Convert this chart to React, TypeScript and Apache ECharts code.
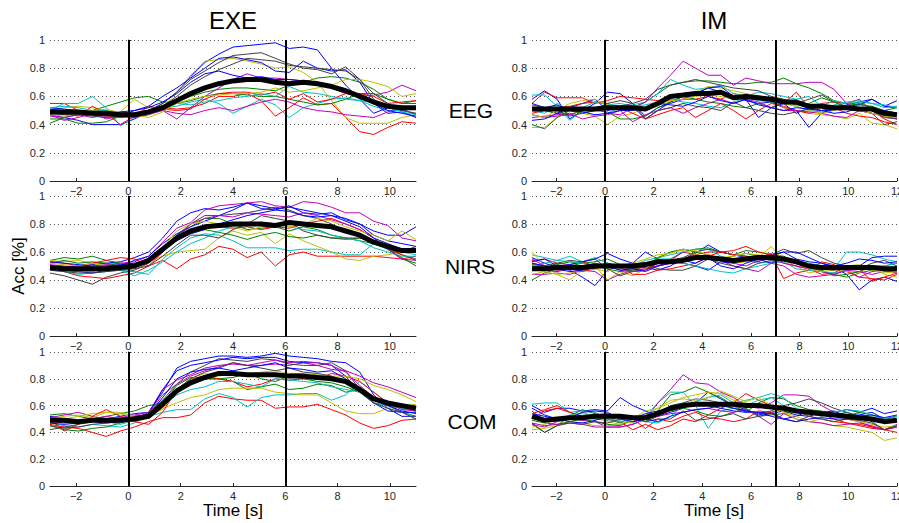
import React, { useEffect, useRef } from "react";
import * as echarts from "echarts";

// ---------- time axes (s) ----------
const tExe = [-3.0, -2.46, -1.92, -1.38, -0.85, -0.31, 0.23, 0.77, 1.31, 1.85, 2.38, 2.92, 3.46, 4.0, 4.54, 5.08, 5.62, 6.15, 6.69, 7.23, 7.77, 8.31, 8.85, 9.38, 9.92, 10.46, 11.0];
const tIm = [-3.0, -2.48, -1.97, -1.45, -0.93, -0.41, 0.1, 0.62, 1.14, 1.66, 2.17, 2.69, 3.21, 3.72, 4.24, 4.76, 5.28, 5.79, 6.31, 6.83, 7.34, 7.86, 8.38, 8.9, 9.41, 9.93, 10.45, 10.97, 11.48, 12.0];

const exeTicks = [-2, 0, 2, 4, 6, 8, 10];
const imTicks = [-2, 0, 2, 4, 6, 8, 10, 12];
const exeOnsets = [0, 6];
const imOnsets = [0, 7];

// MATLAB default colour order (b, g, r, c, m, y, k)
const subjectColors = ["#0000FF", "#008000", "#FF0000", "#00BFBF", "#BF00BF", "#BFBF00", "#404040"];

// ---------- accuracies (%) per subject ----------
const exeEEG = [
  [47,45,43,40,40,40,44,49,55,63,74,84,90,95,96,97,98,94,95,93,80,68,58,48,52,51,47],
  [41,45,47,50,53,56,59,60,56,56,60,63,65,66,66,65,64,68,70,73,74,73,70,65,58,55,55],
  [55,55,50,47,46,45,46,48,52,51,52,55,60,60,62,57,46,52,59,54,55,45,35,33,38,42,41],
  [50,55,55,60,52,39,45,47,52,53,56,58,55,48,53,58,54,45,52,55,58,59,57,53,50,50,48],
  [46,45,47,45,47,49,48,49,50,44,52,60,66,72,76,73,73,72,71,70,66,62,60,61,63,68,64],
  [50,52,53,52,50,49,58,52,52,63,75,85,86,87,85,83,80,81,77,70,57,45,41,41,41,45,47],
  [51,50,49,48,47,47,48,50,55,63,72,78,84,89,90,91,87,83,80,79,76,81,72,58,52,50,52],
  [52,51,50,49,48,46,50,53,60,66,73,80,87,88,86,84,78,77,85,80,78,79,70,55,48,49,45],
  [44,44,41,41,42,46,48,50,53,55,57,60,62,62,61,60,60,58,56,54,55,58,62,62,58,55,57],
  [49,48,46,53,48,40,46,53,51,50,51,58,62,63,63,61,63,58,62,56,58,62,62,60,55,56,57],
  [52,53,52,50,50,48,45,48,53,55,54,56,57,59,60,62,60,67,63,62,60,58,57,56,53,49,47],
  [47,43,45,48,44,46,45,47,50,48,47,50,52,50,53,56,58,56,52,50,49,47,46,45,49,53,52],
  [47,46,48,50,51,48,47,45,49,55,58,60,61,62,62,63,66,63,64,66,68,72,72,70,67,60,62],
  [48,47,47,46,45,46,48,49,53,60,68,74,79,83,87,86,85,82,81,80,79,78,72,62,55,50,48],
  [50,49,48,47,46,49,50,52,56,62,70,76,78,75,73,74,72,72,71,70,68,64,60,55,50,48,46],
];
const exeEEGMean = [49,49,49,48,48,47,47,49,52,57,62,66,69,71,72,72,70,69,70,69,67,64,60,56,53,52,52];

const exeNIRS = [
  [50,49,50,51,52,53,56,60,70,82,88,91,90,92,95,93,91,92,90,88,86,84,80,75,72,72,78],
  [54,56,55,57,54,52,51,54,62,72,78,84,84,80,76,77,78,75,78,76,72,70,68,66,62,56,50],
  [50,46,43,42,41,43,45,50,54,48,55,58,64,62,56,60,50,58,60,57,57,57,57,57,56,55,57],
  [47,46,44,45,46,47,46,44,55,63,70,73,72,68,63,63,63,61,62,62,60,58,58,66,62,60,58],
  [51,50,49,50,51,52,53,57,67,77,81,90,93,94,95,96,93,92,96,95,92,88,88,82,79,70,68],
  [54,53,54,52,50,51,52,53,57,60,61,62,70,75,72,74,66,73,68,64,60,55,54,57,58,60,63],
  [45,43,40,37,42,45,47,52,62,72,80,86,86,87,88,90,92,90,86,84,80,75,72,68,62,58,55],
  [48,47,46,45,47,50,54,57,66,73,78,82,86,90,95,91,90,93,88,87,88,83,80,72,68,66,64],
  [52,54,52,53,52,50,50,53,62,70,75,76,74,72,69,72,74,71,70,72,70,69,70,68,62,55,52],
  [53,52,50,52,54,56,55,50,60,70,76,78,78,77,78,76,78,77,80,82,84,80,76,70,63,58,54],
  [49,47,46,46,48,47,43,47,53,60,66,70,75,78,81,80,80,78,76,75,72,70,68,63,60,57,57],
  [48,47,46,48,50,49,50,52,60,70,80,84,86,85,88,87,86,85,88,86,83,80,76,70,62,55,54],
  [52,51,50,52,49,50,51,53,63,75,80,82,80,78,75,78,80,78,80,84,82,78,75,72,68,75,69],
  [47,46,45,45,46,47,48,50,57,65,72,72,70,76,80,86,84,82,75,72,70,70,70,68,62,60,64],
  [53,52,51,50,50,51,52,55,62,68,73,76,80,83,86,88,90,89,86,85,86,82,78,70,66,62,60],
];
const exeNIRSMean = [49,48,48,48,48,49,50,54,62,70,75,78,79,80,80,80,79,81,80,79,78,75,72,67,64,61,61];

const exeCOM = [
  [50,49,48,49,50,52,54,55,70,88,93,95,97,97,96,97,99,97,96,95,93,92,85,68,58,52,52],
  [53,54,52,50,52,54,56,60,62,75,81,80,80,78,72,74,76,72,73,76,75,70,72,66,60,55,52],
  [46,44,43,40,37,41,44,48,51,51,53,62,67,65,64,64,58,59,59,61,57,53,47,43,45,49,50],
  [47,45,44,46,45,44,47,52,55,57,57,65,69,66,59,66,68,68,69,69,64,68,78,70,62,58,49],
  [51,53,55,52,50,51,53,55,72,79,83,88,90,91,90,90,91,90,92,90,87,86,82,77,74,70,66],
  [52,50,52,54,55,55,52,52,58,62,66,68,72,73,73,73,70,69,68,68,62,56,54,54,58,60,61],
  [42,44,46,48,49,50,52,53,64,76,85,90,95,94,93,95,94,91,90,90,92,86,72,62,60,58,56],
  [52,50,48,49,48,50,51,54,72,86,90,92,94,96,95,96,96,93,92,92,90,82,70,62,56,55,55],
  [45,42,41,43,44,47,50,55,64,72,79,80,80,81,84,80,78,82,80,78,77,74,70,66,62,60,58],
  [50,41,46,52,57,52,48,46,55,72,80,82,80,78,74,76,80,79,80,80,84,82,78,70,62,60,58],
  [49,50,48,49,48,46,49,53,60,68,72,74,78,78,76,74,80,79,78,77,74,72,70,62,60,58,56],
  [48,47,48,50,52,50,52,54,68,76,82,86,89,92,90,92,94,92,93,92,90,85,75,66,62,57,56],
  [50,52,53,51,55,54,51,53,57,72,80,84,82,84,83,85,86,84,84,83,82,82,80,75,72,68,63],
  [45,43,44,46,47,48,50,52,60,72,80,85,88,92,90,88,86,88,85,84,82,78,70,62,58,55,50],
  [47,46,47,48,47,48,50,53,66,80,85,87,88,86,88,90,92,88,87,85,86,80,72,64,60,56,54],
];
const exeCOMMean = [49,49,48,49,49,49,50,52,61,71,77,81,84,84,83,83,83,82,82,81,80,78,72,65,62,60,58];

const imEEG = [
  [58,64,58,44,50,55,63,62,55,46,52,55,58,62,66,63,60,57,55,56,52,50,38,48,52,54,56,58,53,57],
  [52,50,48,47,50,52,54,53,52,56,62,68,70,71,71,70,69,69,70,70,73,69,66,62,57,55,54,53,50,48],
  [55,63,59,59,59,55,57,60,59,58,57,57,58,58,60,58,62,60,58,56,55,63,52,55,56,55,58,50,44,40],
  [61,61,53,43,50,52,48,52,54,56,62,72,68,65,66,68,62,60,63,62,60,58,60,53,57,55,56,55,52,53],
  [47,45,46,47,50,52,48,47,52,56,66,75,85,80,75,75,68,73,71,69,69,69,70,70,65,55,50,48,46,44],
  [38,38,45,50,48,46,40,46,48,52,54,56,60,63,67,66,64,62,60,58,52,50,48,47,46,44,48,41,40,37],
  [52,50,48,50,52,50,55,57,55,58,65,68,70,72,70,68,66,65,64,60,58,55,58,61,56,52,50,48,40,42],
  [43,44,48,52,55,58,50,52,53,44,50,56,60,62,66,67,60,58,45,52,55,48,52,50,50,53,54,58,53,52],
  [40,37,45,50,48,50,49,44,44,46,52,56,60,58,56,55,53,52,55,52,56,54,55,59,56,53,55,52,50,52],
  [48,50,52,53,55,56,55,52,48,44,47,50,52,45,50,55,50,44,50,55,53,50,48,50,52,48,46,45,42,40],
  [50,48,55,50,52,56,54,55,53,54,56,58,56,55,53,52,56,59,57,56,55,53,50,49,54,56,57,55,54,52],
  [45,46,47,48,44,46,47,50,42,47,50,52,48,52,55,58,55,58,56,52,50,50,49,48,46,45,50,48,46,44],
  [47,45,50,55,57,58,54,52,50,52,55,57,58,60,61,60,58,62,60,57,55,53,50,48,50,52,50,48,46,45],
  [54,52,50,46,48,50,52,53,55,44,50,52,55,53,52,50,56,52,50,48,47,49,51,50,52,53,51,50,45,44],
  [55,52,54,50,49,47,48,50,50,52,55,54,53,56,60,57,55,58,54,52,50,52,51,50,48,49,52,50,50,48],
];
const imEEGMean = [51,51,51,51,51,51,52,52,52,51,55,60,61,62,62,63,59,60,59,58,56,56,53,53,52,52,51,51,48,47];

const imNIRS = [
  [56,52,49,47,42,36,47,50,52,49,47,50,55,59,65,60,58,56,55,57,60,55,53,52,49,44,33,40,42,39],
  [40,45,48,50,52,53,55,51,46,48,52,55,60,62,63,60,58,61,60,58,57,53,50,46,44,42,45,47,48,50],
  [54,55,52,51,53,50,52,48,48,49,50,52,55,58,60,60,61,64,60,58,41,45,47,53,51,46,42,41,40,44],
  [58,56,54,57,53,56,52,50,50,54,56,58,60,62,62,57,55,54,52,53,55,54,52,50,48,60,60,58,55,53],
  [44,44,45,44,47,46,40,44,47,48,50,54,60,58,55,54,50,48,46,52,50,44,42,43,44,47,42,46,47,45],
  [60,50,44,40,47,50,40,46,43,48,55,60,61,58,57,55,52,53,56,64,54,50,45,47,48,46,45,50,44,42],
  [51,50,52,54,53,55,48,43,46,47,52,54,56,60,62,60,58,57,55,58,62,59,61,56,52,50,48,52,54,50],
  [53,55,50,51,53,55,59,55,52,60,55,53,52,50,47,53,52,55,53,58,60,60,56,52,50,48,50,56,57,57],
  [50,49,51,53,52,50,48,46,47,50,56,60,62,60,58,55,57,59,57,56,54,52,48,47,43,44,46,50,50,52],
  [52,50,47,48,46,48,51,50,44,44,47,48,50,52,57,60,58,57,56,59,52,50,48,44,45,50,48,39,42,45],
  [50,52,54,53,52,50,52,48,48,52,55,55,52,50,48,46,45,48,50,52,53,48,47,46,45,47,49,48,50,52],
  [55,50,47,48,50,52,50,47,46,47,50,52,54,57,58,55,52,50,54,55,52,50,48,46,44,47,46,44,46,46],
  [44,46,44,45,47,48,46,50,52,55,58,59,62,61,58,56,57,59,58,57,55,52,48,46,47,50,51,47,45,46],
  [48,47,46,48,50,48,52,50,50,52,48,47,47,50,55,52,50,48,52,54,55,53,50,48,47,48,50,50,48,49],
  [52,50,48,46,47,49,50,47,48,46,50,52,54,52,56,50,48,52,55,52,56,52,50,48,50,52,55,54,52,53],
];
const imNIRSMean = [48,48,49,49,49,50,50,50,50,51,53,53,54,56,56,55,54,55,56,56,55,53,50,49,49,49,49,49,48,48];

const imCOM = [
  [60,55,58,58,56,57,56,66,60,56,52,55,58,62,70,65,60,57,53,55,50,52,56,54,55,57,55,58,54,56],
  [46,40,45,52,57,54,50,47,52,48,56,68,70,74,70,66,60,55,62,66,65,60,57,56,53,55,52,50,47,49],
  [50,56,58,55,52,52,50,48,42,46,42,45,50,48,53,58,62,69,64,60,58,57,55,54,50,47,45,43,42,40],
  [61,62,62,55,56,55,50,48,47,52,62,70,70,60,43,56,58,60,64,66,60,55,53,54,52,53,54,50,48,50],
  [46,44,48,50,49,48,44,44,46,50,62,72,83,77,76,70,66,60,58,62,68,68,67,60,55,50,48,44,42,46],
  [42,43,45,48,47,45,45,46,48,53,58,62,66,68,70,69,64,62,60,58,55,52,48,47,45,44,42,40,34,36],
  [56,48,50,52,51,50,49,52,50,48,52,60,62,65,64,62,58,56,54,56,60,62,65,62,58,55,52,48,42,45],
  [54,52,50,48,47,49,52,52,50,54,56,58,60,62,60,58,56,55,55,54,56,53,52,55,56,52,53,55,50,52],
  [49,47,46,48,50,48,46,45,50,52,54,56,58,56,53,52,55,58,52,53,54,56,54,53,54,52,55,53,50,52],
  [54,57,60,55,52,53,54,52,50,43,50,48,52,55,51,50,48,50,56,55,58,56,52,50,48,47,46,44,42,44],
  [52,50,48,53,54,52,50,49,51,48,47,52,60,63,66,68,62,64,66,69,66,58,54,52,55,57,56,53,50,52],
  [47,45,46,47,46,44,44,44,46,50,52,54,55,57,58,56,55,57,52,46,54,50,48,47,45,46,47,45,42,44],
  [44,46,50,52,55,52,48,46,50,56,58,64,65,64,66,71,67,63,66,60,55,50,48,50,48,50,48,46,44,45],
  [47,40,45,47,46,48,47,50,52,48,50,50,56,49,50,52,54,50,52,54,50,48,52,50,48,50,49,47,42,45],
  [58,53,50,51,55,56,55,50,48,50,48,52,55,57,58,60,58,56,55,52,50,48,50,51,50,50,52,53,51,53],
];
const imCOMMean = [52,49,50,51,51,52,52,52,51,51,54,58,60,61,61,61,61,60,60,59,58,56,55,54,53,52,51,50,48,49];

const FONT = "'Liberation Sans', Arial, Helvetica, sans-serif";

const panels = [
  { subj: exeEEG, mean: exeEEGMean, t: tExe, ticks: exeTicks, onsets: exeOnsets, xmax: 11, col: 0, row: 0 },
  { subj: imEEG, mean: imEEGMean, t: tIm, ticks: imTicks, onsets: imOnsets, xmax: 12, col: 1, row: 0 },
  { subj: exeNIRS, mean: exeNIRSMean, t: tExe, ticks: exeTicks, onsets: exeOnsets, xmax: 11, col: 0, row: 1 },
  { subj: imNIRS, mean: imNIRSMean, t: tIm, ticks: imTicks, onsets: imOnsets, xmax: 12, col: 1, row: 1 },
  { subj: exeCOM, mean: exeCOMMean, t: tExe, ticks: exeTicks, onsets: exeOnsets, xmax: 11, col: 0, row: 2 },
  { subj: imCOM, mean: imCOMMean, t: tIm, ticks: imTicks, onsets: imOnsets, xmax: 12, col: 1, row: 2 },
];

const cols = [
  { left: 50, width: 366 },
  { left: 532, width: 365 },
];
const rows = [
  { top: 40, height: 141 },
  { top: 196, height: 140 },
  { top: 352, height: 134 },
];

function buildOption() {
  const grid: any[] = [];
  const xAxis: any[] = [];
  const yAxis: any[] = [];
  const series: any[] = [];
  const axisColor = "#262626";

  panels.forEach((p, i) => {
    grid.push({
      left: cols[p.col].left,
      width: cols[p.col].width,
      top: rows[p.row].top,
      height: rows[p.row].height,
      containLabel: false,
      outerBoundsMode: "none",
    });
    xAxis.push({
      type: "value",
      gridIndex: i,
      min: -3,
      max: p.xmax,
      axisLine: { show: true, onZero: false, lineStyle: { color: axisColor, width: 1 } },
      axisTick: { show: true, inside: true, length: 3, customValues: p.ticks, lineStyle: { color: axisColor } },
      axisLabel: {
        customValues: p.ticks,
        fontSize: 11,
        fontFamily: FONT,
        color: axisColor,
        margin: 4,
        formatter: (v: number) => (v < 0 ? "\u2212" + Math.abs(v) : String(v)),
      },
      splitLine: { show: false },
    });
    yAxis.push({
      type: "value",
      gridIndex: i,
      min: 0,
      max: 1,
      interval: 0.2,
      axisLine: { show: true, lineStyle: { color: axisColor, width: 1 } },
      axisTick: { show: true, inside: true, length: 3, lineStyle: { color: axisColor } },
      axisLabel: { fontSize: 11, fontFamily: FONT, color: axisColor, margin: 5 },
      splitLine: { show: true, lineStyle: { color: "#555", width: 1, type: [1, 3] } },
    });
    p.subj.forEach((vals, j) => {
      const color = subjectColors[j % subjectColors.length];
      series.push({
        type: "line",
        xAxisIndex: i,
        yAxisIndex: i,
        data: p.t.map((t, k) => [t, vals[k] / 100]),
        symbol: "none",
        showSymbol: false,
        silent: true,
        lineStyle: { width: 1, color },
        itemStyle: { color },
        z: 2,
      });
    });
    series.push({
      type: "line",
      xAxisIndex: i,
      yAxisIndex: i,
      data: p.t.map((t, k) => [t, p.mean[k] / 100]),
      symbol: "none",
      showSymbol: false,
      silent: true,
      lineStyle: { width: 5, color: "#000" },
      itemStyle: { color: "#000" },
      z: 3,
      markLine: {
        silent: true,
        symbol: ["none", "none"],
        label: { show: false },
        lineStyle: { color: "#000", width: 2, type: "solid" },
        emphasis: { disabled: true },
        data: p.onsets.map((v) => ({ xAxis: v })),
      },
    });
  });

  const graphic: any[] = [
    { type: "text", x: 233, y: 20, style: { text: "EXE", fontSize: 24, fontFamily: FONT, fill: "#000", align: "center", verticalAlign: "middle" } },
    { type: "text", x: 714, y: 20, style: { text: "IM", fontSize: 24, fontFamily: FONT, fill: "#000", align: "center", verticalAlign: "middle" } },
    { type: "text", x: 471, y: 110, style: { text: "EEG", fontSize: 21, fontFamily: FONT, fill: "#000", align: "center", verticalAlign: "middle" } },
    { type: "text", x: 470, y: 266, style: { text: "NIRS", fontSize: 21, fontFamily: FONT, fill: "#000", align: "center", verticalAlign: "middle" } },
    { type: "text", x: 472, y: 421, style: { text: "COM", fontSize: 21, fontFamily: FONT, fill: "#000", align: "center", verticalAlign: "middle" } },
    { type: "text", x: 18, y: 266, rotation: Math.PI / 2, style: { text: "Acc [%]", fontSize: 17, fontFamily: FONT, fill: "#000", align: "center", verticalAlign: "middle" } },
    { type: "text", x: 233, y: 510, style: { text: "Time [s]", fontSize: 17, fontFamily: FONT, fill: "#000", align: "center", verticalAlign: "middle" } },
    { type: "text", x: 714, y: 510, style: { text: "Time [s]", fontSize: 17, fontFamily: FONT, fill: "#000", align: "center", verticalAlign: "middle" } },
  ];

  return {
    animation: false,
    backgroundColor: "#fff",
    textStyle: { fontFamily: FONT },
    grid,
    xAxis,
    yAxis,
    series,
    graphic,
  };
}

export default function App() {
  const ref = useRef<HTMLDivElement>(null);
  useEffect(() => {
    if (!ref.current) return;
    const chart = echarts.init(ref.current, null, { renderer: "svg" });
    chart.setOption(buildOption() as any);
    return () => chart.dispose();
  }, []);
  return (
    <div
      ref={ref}
      style={{ position: "absolute", left: 0, top: 0, width: 899, height: 523, background: "#fff" }}
    />
  );
}
